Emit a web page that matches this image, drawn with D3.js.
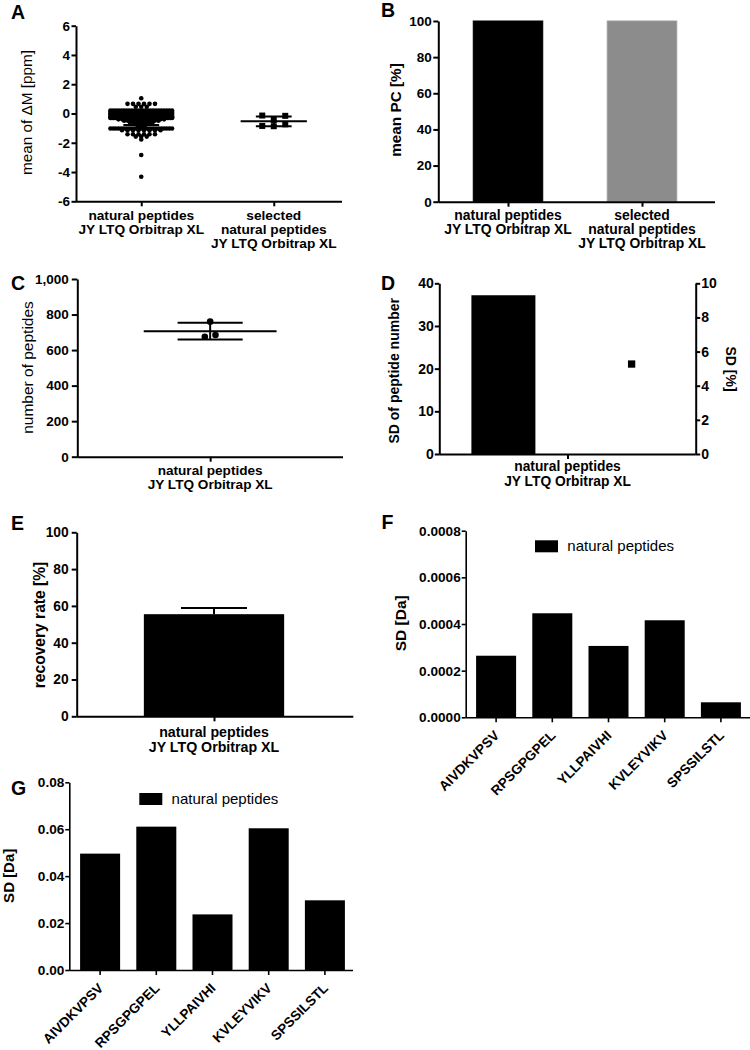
<!DOCTYPE html>
<html><head><meta charset="utf-8">
<script src="https://cdn.jsdelivr.net/npm/d3@7"></script>
<style>body{margin:0;background:#fff} svg{display:block}</style>
</head><body>
<script>
// ---------------- data ----------------
const catNatural = ["natural peptides", "JY LTQ Orbitrap XL"];
const catSelected = ["selected", "natural peptides", "JY LTQ Orbitrap XL"];
const peptides = ["AIVDKVPSV", "RPSGPGPEL", "YLLPAIVHI", "KVLEYVIKV", "SPSSILSTL"];
const legendLabel = "natural peptides";

// A: mean of dM [ppm]; natural peptides given as [value, number of points] rows
const ticksA = [-6, -4, -2, 0, 2, 4, 6];
const deltaMNaturalRows = [[1.04,1],[0.66,6],[0.46,3],[0.2,24],[0.1,30],[0,40],[-0.1,45],[-0.2,45],[-0.3,40],
  [-0.4,13],[-0.5,10],[-0.6,7],[-0.7,5],[-0.8,3],[-0.88,1],[-1.02,24],[-1.14,8],[-1.42,6],[-1.58,3],[-1.78,1],[-2.84,1],[-4.32,1]];
const deltaMSelected = [-0.14, -0.44, -0.16, -0.85, -0.87, -0.74];

// B: mean PC [%]
const ticksB = [0, 20, 40, 60, 80, 100];
const meanPC = [100, 100];

// C: number of peptides (replicates)
const ticksC = [0, 200, 400, 600, 800, 1000];
const peptideCounts = [760, 675, 685];

// D: SD of peptide number / SD [%]
const ticksDLeft = [0, 10, 20, 30, 40];
const ticksDRight = [0, 2, 4, 6, 8, 10];
const sdPeptideNumber = [37.2];
const sdPercent = [5.27];

// E: recovery rate [%]
const ticksE = [0, 20, 40, 60, 80, 100];
const recoveryMean = [55.5];
const recoverySD = [3.3];

// F / G: SD [Da]
const ticksF = [0, 0.0002, 0.0004, 0.0006, 0.0008];
const sdDaF = [0.000264, 0.000446, 0.000306, 0.000416, 0.0000643];
const ticksG = [0, 0.02, 0.04, 0.06, 0.08];
const sdDaG = [0.0496, 0.0611, 0.0237, 0.0604, 0.0297];

// ---------------- helpers ----------------
const FONT = "'Liberation Sans', Arial, Helvetica, sans-serif";
const svg = d3.select("body").append("svg").attr("width", 750).attr("height", 1050)
  .style("font-family", FONT);

function styleAxis(g, o) {
  g.select(".domain").attr("stroke", "#000").attr("stroke-width", o.sw || 2);
  g.selectAll(".tick line").attr("stroke", "#000").attr("stroke-width", o.sw || 2);
  g.selectAll(".tick text").attr("fill", "#000")
    .style("font-size", (o.fs || 13.5) + "px").style("font-weight", "bold").style("font-family", FONT);
}
function leftAxis(y, x, ticks, fmt, o = {}) {
  const g = svg.append("g").attr("transform", `translate(${x},0)`)
    .call(d3.axisLeft(y).tickValues(ticks).tickFormat(fmt)
      .tickSizeInner(o.ts ?? 5).tickSizeOuter(0).tickPadding(o.pad ?? 2));
  styleAxis(g, o);
  return g;
}
function rightAxis(y, x, ticks, fmt, o = {}) {
  const g = svg.append("g").attr("transform", `translate(${x},0)`)
    .call(d3.axisRight(y).tickValues(ticks).tickFormat(fmt)
      .tickSizeInner(o.ts ?? 5).tickSizeOuter(0).tickPadding(o.pad ?? 2));
  styleAxis(g, o);
  return g;
}
function bottomAxis(scale, x0, x1, y, o = {}) {
  const g = svg.append("g").attr("transform", `translate(0,${y})`)
    .call(d3.axisBottom(scale).tickSizeInner(o.ts ?? 5).tickSizeOuter(0).tickFormat(""));
  g.select(".domain").remove();
  g.append("line").attr("x1", x0).attr("x2", x1).attr("y1", 0.5).attr("y2", 0.5)
    .attr("stroke", "#000").attr("stroke-width", o.sw || 2);
  g.selectAll(".tick line").attr("stroke", "#000").attr("stroke-width", o.sw || 2);
  return g;
}
function catLabel(cx, yBase, lines, fs, lh) {
  const t = svg.append("text").attr("text-anchor", "middle")
    .style("font-size", fs + "px").style("font-weight", "bold").attr("fill", "#000");
  lines.forEach((s, i) => t.append("tspan").attr("x", cx).attr("y", yBase + i * lh).text(s));
}
function yTitle(txt, cx, cy, fs, bold, rot = -90) {
  svg.append("text").attr("transform", `translate(${cx},${cy}) rotate(${rot})`)
    .attr("text-anchor", "middle").attr("dy", "0.35em")
    .style("font-size", fs + "px").style("font-weight", bold ? "bold" : "normal")
    .attr("fill", "#000").text(txt);
}
function letter(txt, x, y) {
  svg.append("text").attr("x", x).attr("y", y).style("font-size", "19.5px")
    .style("font-weight", "bold").attr("fill", "#000").text(txt);
}
// group points into rows (Prism-like scatter layout)
function rowLayout(values, yScale, cx, thr, spacing, maxW) {
  const idx = values.map((v, i) => i).sort((a, b) => values[b] - values[a]);
  const rows = [];
  idx.forEach(i => {
    const py = yScale(values[i]);
    let row = rows.find(r => Math.abs(r.y0 - py) < thr);
    if (!row) { row = { y0: py, items: [] }; rows.push(row); }
    row.items.push(i);
  });
  const out = [];
  rows.forEach(row => {
    row.items.sort((a, b) => a - b);
    const n = row.items.length;
    const s = n > 1 ? Math.min(spacing, maxW / (n - 1)) : 0;
    row.items.forEach((i, k) => out.push({ v: values[i], x: cx + (k - (n - 1) / 2) * s, y: yScale(values[i]) }));
  });
  return out;
}
function meanSD(cx, y, values, wMean, wCap, sw = 2) {
  const m = d3.mean(values), sd = d3.deviation(values);
  const g = svg.append("g").attr("stroke", "#000").attr("stroke-width", sw);
  g.append("line").attr("x1", cx - wMean / 2).attr("x2", cx + wMean / 2).attr("y1", y(m)).attr("y2", y(m));
  g.append("line").attr("x1", cx).attr("x2", cx).attr("y1", y(m + sd)).attr("y2", y(m - sd));
  [m + sd, m - sd].forEach(v => g.append("line").attr("x1", cx - wCap / 2).attr("x2", cx + wCap / 2)
    .attr("y1", y(v)).attr("y2", y(v)));
}
const fmtPlain = d => String(d);

// ================= Panel A =================
(function () {
  const y = d3.scaleLinear().domain([-6, 6]).range([201.3, 25.7]);
  const x = d3.scalePoint().domain(["nat", "sel"]).range([75, 340]).padding(0.5);
  const step = x.step();
  leftAxis(y, 76, ticksA, fmtPlain, { ts: 4.5, pad: 1.5, fs: 13.5 });
  bottomAxis(x, 76, 342, 201.3, { ts: 5 });
  catLabel(x("nat"), 220, catNatural, 13.7, 14);
  catLabel(x("sel"), 220, catSelected, 13.7, 14);
  yTitle("mean of \u0394M [ppm]", 27, 112.5, 15.3, false);
  letter("A", 11, 18.5);

  // natural peptides: rows of dots (dense rows overlap, isolated rows spread)
  const r = 2.3, colW = step * 0.5;
  const rowVals = deltaMNaturalRows.map(d => d[0]);
  const pts = [], allVals = [];
  deltaMNaturalRows.forEach(([v, n]) => {
    const dense = rowVals.some(w => w !== v && Math.abs(w - v) <= 0.105);
    const base = dense ? 3.8 : 5.5;
    const s = n > 1 ? Math.min(base, (colW - 2 * r) / (n - 1)) : 0;
    for (let k = 0; k < n; k++) { pts.push({ x: x("nat") + (k - (n - 1) / 2) * s, y: y(v) }); allVals.push(v); }
  });
  svg.append("g").selectAll("circle").data(pts).join("circle")
    .attr("cx", d => d.x).attr("cy", d => d.y).attr("r", r).attr("fill", "#000");
  meanSD(x("nat"), y, allVals, step * 0.5, step * 0.27);

  // selected: squares
  const sq = 6;
  const sel = rowLayout(deltaMSelected, y, x("sel"), sq, 11.5, 60);
  svg.append("g").selectAll("rect").data(sel).join("rect")
    .attr("x", d => d.x - sq / 2).attr("y", d => d.y - sq / 2).attr("width", sq).attr("height", sq).attr("fill", "#000");
  meanSD(x("sel"), y, deltaMSelected, step * 0.5, step * 0.27);
})();

// ================= Panel B =================
(function () {
  const y = d3.scaleLinear().domain([0, 100]).range([201.7, 21]);
  const x = d3.scalePoint().domain(["nat", "sel"]).range([441, 709]).padding(0.5);
  const bw = 69.5;
  const fills = ["#000", "#8c8c8c"];
  svg.append("g").selectAll("rect").data(meanPC).join("rect")
    .attr("x", (d, i) => x(x.domain()[i]) - bw / 2).attr("width", bw)
    .attr("y", d => y(d)).attr("height", d => y(0) - y(d))
    .attr("fill", (d, i) => fills[i]).attr("stroke", (d, i) => i ? "#9c9c9c" : "#000").attr("stroke-width", 1);
  leftAxis(y, 438.3, ticksB, fmtPlain, { ts: 5, pad: 1.5 });
  bottomAxis(x, 438.3, 715, 201.7, { ts: 5 });
  catLabel(x("nat"), 220, catNatural, 13.9, 14);
  catLabel(x("sel"), 220, catSelected, 13.9, 14);
  yTitle("mean PC [%]", 395.8, 110, 15.3, true);
  letter("B", 381, 17);
})();

// ================= Panel C =================
(function () {
  const y = d3.scaleLinear().domain([0, 1000]).range([456.7, 279]);
  const x = d3.scalePoint().domain(["nat"]).range([77.3, 343]).padding(0.5);
  const step = 343 - 77.3;
  leftAxis(y, 77.3, ticksC, d3.format(","), { ts: 5.5, pad: 3 });
  bottomAxis(x, 77.3, 343, 456.7, { ts: 5 });
  catLabel(x("nat"), 475, catNatural, 13.6, 14);
  yTitle("number of peptides", 27.5, 367.5, 15.5, false);
  letter("C", 11, 290);
  const pts = rowLayout(peptideCounts, y, x("nat"), 6.3, 10.7, 60);
  svg.append("g").selectAll("circle").data(pts).join("circle")
    .attr("cx", d => d.x).attr("cy", d => d.y).attr("r", 3.3).attr("fill", "#000");
  meanSD(x("nat"), y, peptideCounts, step * 0.5, step * 0.245);
})();

// ================= Panel D =================
(function () {
  const yL = d3.scaleLinear().domain([0, 40]).range([454, 283.3]);
  const yR = d3.scaleLinear().domain([0, 10]).range([454, 283.3]);
  const x = d3.scalePoint().domain(["nat"]).range([439.3, 695.7]).padding(0.5);
  const inner = d3.scaleBand().domain(["count", "pct"]).range([439.3, 695.7]);
  const bw = 64;
  svg.append("g").selectAll("rect").data(sdPeptideNumber).join("rect")
    .attr("x", inner("count") + inner.bandwidth() / 2 - bw / 2).attr("width", bw)
    .attr("y", d => yL(d)).attr("height", d => yL(0) - yL(d)).attr("fill", "#000");
  const sq = 7.3;
  svg.append("g").selectAll("rect").data(sdPercent).join("rect")
    .attr("x", inner("pct") + inner.bandwidth() / 2 - sq / 2).attr("width", sq)
    .attr("y", d => yR(d) - sq / 2).attr("height", sq).attr("fill", "#000");
  leftAxis(yL, 439.3, ticksDLeft, fmtPlain, { ts: 4.5, pad: 1, fs: 14 });
  rightAxis(yR, 695.7, ticksDRight, fmtPlain, { ts: 4.5, pad: 1, fs: 14 });
  bottomAxis(x, 439.3, 695.7, 454, { ts: 5 });
  catLabel(x("nat"), 470.5, catNatural, 13.8, 15);
  yTitle("SD of peptide number", 394, 370.8, 14, true);
  yTitle("SD [%]", 730.8, 369, 14, true, 90);
  letter("D", 381, 290);
})();

// ================= Panel E =================
(function () {
  const y = d3.scaleLinear().domain([0, 100]).range([716.3, 532.3]);
  const x = d3.scalePoint().domain(["nat"]).range([76.7, 351.3]).padding(0.5);
  const bw = 140.3;
  const cx = x("nat");
  svg.append("g").selectAll("rect").data(recoveryMean).join("rect")
    .attr("x", cx - bw / 2).attr("width", bw)
    .attr("y", d => y(d)).attr("height", d => y(0) - y(d)).attr("fill", "#000");
  const eg = svg.append("g").attr("stroke", "#000").attr("stroke-width", 2);
  recoveryMean.forEach((m, i) => {
    const top = m + recoverySD[i];
    eg.append("line").attr("x1", cx).attr("x2", cx).attr("y1", y(m)).attr("y2", y(top));
    eg.append("line").attr("x1", cx - 33).attr("x2", cx + 33).attr("y1", y(top)).attr("y2", y(top));
  });
  leftAxis(y, 76.7, ticksE, fmtPlain, { ts: 5, pad: 3, fs: 13.8 });
  bottomAxis(x, 76.7, 353.3, 716.3, { ts: 5 });
  catLabel(cx, 736.8, catNatural, 14.2, 15);
  yTitle("recovery rate [%]", 40, 625, 15.6, true);
  letter("E", 11, 530);
})();

// ================= Panels F & G =================
function peptidePanel(values, ticks, fmt, geo) {
  const y = d3.scaleLinear().domain([0, ticks[ticks.length - 1]]).range([geo.yBot, geo.yTop]);
  const x = d3.scaleBand().domain(peptides).range([geo.bx0, geo.bx1]).paddingInner(0.288).paddingOuter(0.144);
  svg.append("g").selectAll("rect").data(values).join("rect")
    .attr("x", (d, i) => x(peptides[i])).attr("width", x.bandwidth())
    .attr("y", d => y(d)).attr("height", d => y(0) - y(d)).attr("fill", "#000");
  leftAxis(y, geo.ax, ticks, fmt, { ts: 4, pad: 1, sw: 1.6, fs: 13.6 });
  const g = bottomAxis(x, geo.ax, geo.ax1, geo.yBot, { ts: 5, sw: 1.6 });
  g.selectAll(".tick").append("text")
    .attr("transform", "translate(4,19) rotate(-45)")
    .attr("text-anchor", "end").attr("fill", "#000")
    .style("font-size", "13.6px").style("font-weight", "bold").style("font-family", FONT)
    .text(d => d);
  svg.append("rect").attr("x", geo.lx).attr("y", geo.ly).attr("width", 23).attr("height", 12).attr("fill", "#000");
  svg.append("text").attr("x", geo.lx + 32.3).attr("y", geo.ly + 10.5)
    .style("font-size", "15px").attr("fill", "#000").text(legendLabel);
  yTitle("SD [Da]", geo.tx, geo.ty, geo.tfs, true);
  letter(geo.letter, geo.lex, geo.ley);
}
peptidePanel(sdDaF, ticksF, d3.format(".4f"),
  { yTop: 530.7, yBot: 717.3, bx0: 468, bx1: 749, ax: 465.7, ax1: 750, lx: 535, ly: 540.3,
    tx: 400.8, ty: 623.3, tfs: 15.5, letter: "F", lex: 381.5, ley: 529 });
peptidePanel(sdDaG, ticksG, d3.format(".2f"),
  { yTop: 782.3, yBot: 970, bx0: 72, bx1: 353, ax: 69.3, ax1: 353, lx: 139.3, ly: 793,
    tx: 9, ty: 875.8, tfs: 15, letter: "G", lex: 11, ley: 795 });
</script>
</body></html>
